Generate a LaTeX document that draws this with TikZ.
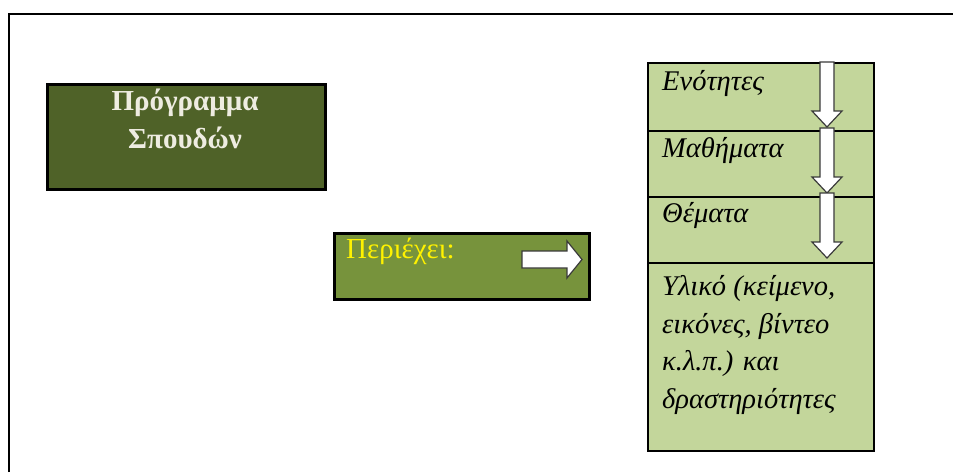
\documentclass[tikz,border=0pt]{standalone}
\usepackage{fontspec}
\setmainfont{Liberation Serif}
\definecolor{darkolive}{HTML}{4F6228}
\definecolor{midolive}{HTML}{77933C}
\definecolor{lightolive}{HTML}{C3D69B}
\definecolor{cream}{HTML}{EEECE1}
\definecolor{arrowedge}{HTML}{3A3A3A}
\tikzset{
  box/.style={draw=black, line width=2.5pt, rectangle, inner sep=0pt},
  cell/.style={draw=black, line width=2pt, fill=lightolive, rectangle, inner sep=0pt, anchor=north west, minimum width=226pt},
  celltext/.style={anchor=base west, inner sep=0pt, font=\fontsize{28.5}{37.5}\selectfont\itshape},
  progfont/.style={anchor=base, inner sep=0pt, font=\fontsize{29}{37}\selectfont\bfseries, text=cream},
  blockarrow/.style={draw=arrowedge, line width=1.2pt, fill=white, line join=miter}
}
\begin{document}
\begin{tikzpicture}[x=1pt,y=-1pt]
\useasboundingbox (0,0) rectangle (953,472);
\fill[white] (0,0) rectangle (953,472);
% frame
\coordinate (fbl) at (9,472);
\coordinate (ftl) at (9,14);
\coordinate (ftr) at (953,14);
\draw[line width=2pt] (fbl) -- (ftl) -- (ftr);
% program box
\node[box, fill=darkolive, anchor=north west, minimum width=278pt, minimum height=105pt] (prog) at (46,83) {};
\node[progfont] (progtext1) at (185,110) {Πρόγραμμα};
\node[progfont] (progtext2) at (185,148) {Σπουδών};
% contains box
\node[box, fill=midolive, anchor=north west, minimum width=255pt, minimum height=66pt] (cont) at (333,232) {};
\node[font=\fontsize{29}{34}\selectfont, text=yellow, anchor=base west, inner sep=0pt] (conttext) at (346,258) {Περιέχει:};
\draw[blockarrow] (522,251) -- (567,251) -- (567,241) -- (582,259.5) -- (567,278) -- (567,268) -- (522,268) -- cycle;
% right column
\node[cell, minimum height=68pt] (c1) at (647,62) {};
\node[cell, minimum height=66pt] (c2) at (647,130) {};
\node[cell, minimum height=66pt] (c3) at (647,196) {};
\node[cell, minimum height=188pt] (c4) at (647,262) {};
\node[celltext] (t1) at (662,90) {Ενότητες};
\node[celltext] (t2) at (662,157) {Μαθήματα};
\node[celltext] (t3) at (662,222) {Θέματα};
\node[celltext] (t4a) at (662,295) {Υλικό (κείμενο,};
\node[celltext] (t4b) at (662,333) {εικόνες, βίντεο};
\node[celltext] (t4c) at (662,370) {κ.λ.π.) και};
\node[celltext] (t4d) at (662,408) {δραστηριότητες};
% down arrows
\foreach \t/\b in {62/127, 128/193, 193/258}{
  \draw[blockarrow] (820,\t) -- (834,\t) -- (834,\b-16) -- (842,\b-16) -- (827,\b) -- (812,\b-16) -- (820,\b-16) -- cycle;
}
\end{tikzpicture}
\end{document}
